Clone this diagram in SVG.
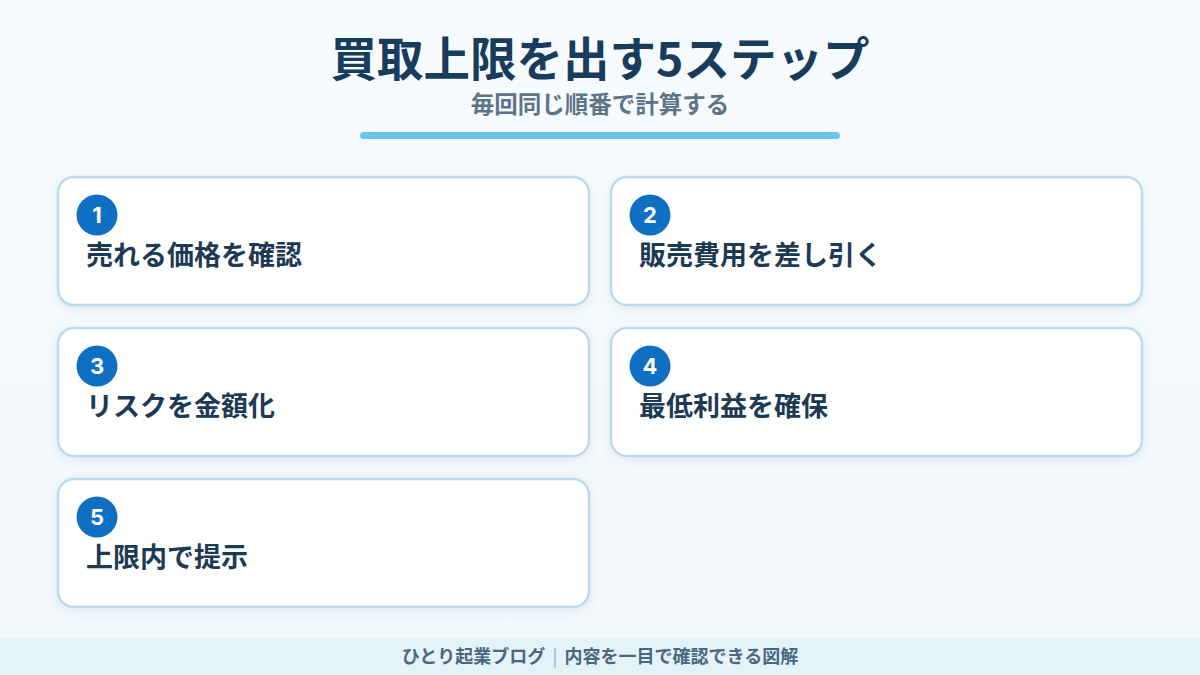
<svg xmlns="http://www.w3.org/2000/svg" width="1200" height="675" viewBox="0 0 1200 675">
<defs>
<linearGradient id="bg" x1="0" y1="0" x2="0" y2="1">
<stop offset="0" stop-color="#f8fbfd"/>
<stop offset="1" stop-color="#f1f7fb"/>
</linearGradient>
<filter id="sh" x="-10%" y="-20%" width="120%" height="150%">
<feDropShadow dx="0" dy="3" stdDeviation="5" flood-color="#5a8bb0" flood-opacity="0.12"/>
</filter>
<style>
.card{fill:#ffffff;stroke:#b8dcee;stroke-width:2.5;filter:url(#sh)}
.badge{fill:#0f6fc2}
.num{font-family:"Inter","Liberation Sans",sans-serif;font-weight:700;font-size:22px;fill:#ffffff;text-anchor:middle}
.lbl{font-family:"Noto Sans CJK JP","Noto Sans",sans-serif;font-weight:700;font-size:27px;fill:#1d3a55}
.title{font-family:"Noto Sans CJK JP","Noto Sans",sans-serif;font-weight:700;font-size:46.5px;fill:#173c5c;text-anchor:middle}
.sub{font-family:"Noto Sans CJK JP","Noto Sans",sans-serif;font-weight:700;font-size:23.5px;fill:#5d7488;text-anchor:middle}
.foot{font-family:"Noto Sans CJK JP","Noto Sans",sans-serif;font-weight:700;font-size:18px;fill:#4a6780;text-anchor:middle}
</style>
</defs>
<rect width="1200" height="675" fill="url(#bg)"/>
<g id="header">
<text class="title" x="600" y="76">買取上限を出す5ステップ</text>
<text class="sub" x="600" y="113">毎回同じ順番で計算する</text>
<rect x="360" y="132" width="480" height="7" rx="3.5" fill="#6cc6ec"/>
</g>
<g id="connectors"></g>
<g id="step1">
<rect class="card" x="58" y="177" width="531" height="128" rx="16"/>
<circle class="badge" cx="97" cy="215" r="20.5"/>
<text class="num" x="97" y="223">1</text>
<text class="lbl" x="86" y="265">売れる価格を確認</text>
</g>
<g id="step2">
<rect class="card" x="611" y="177" width="531" height="128" rx="16"/>
<circle class="badge" cx="650" cy="215" r="20.5"/>
<text class="num" x="650" y="223">2</text>
<text class="lbl" x="639" y="265">販売費用を差し引く</text>
</g>
<g id="step3">
<rect class="card" x="58" y="328" width="531" height="128" rx="16"/>
<circle class="badge" cx="97" cy="366" r="20.5"/>
<text class="num" x="97" y="374">3</text>
<text class="lbl" x="86" y="416">リスクを金額化</text>
</g>
<g id="step4">
<rect class="card" x="611" y="328" width="531" height="128" rx="16"/>
<circle class="badge" cx="650" cy="366" r="20.5"/>
<text class="num" x="650" y="374">4</text>
<text class="lbl" x="639" y="416">最低利益を確保</text>
</g>
<g id="step5">
<rect class="card" x="58" y="479" width="531" height="128" rx="16"/>
<circle class="badge" cx="97" cy="517" r="20.5"/>
<text class="num" x="97" y="525">5</text>
<text class="lbl" x="86" y="567">上限内で提示</text>
</g>
<g id="footer">
<rect x="0" y="638" width="1200" height="37" fill="#e5f2f9"/>
<text class="foot" x="600" y="663">ひとり起業ブログ<tspan fill="#a9c3d4" dx="7">|</tspan><tspan dx="7">内容を一目で確認できる図解</tspan></text>
</g>
</svg>
